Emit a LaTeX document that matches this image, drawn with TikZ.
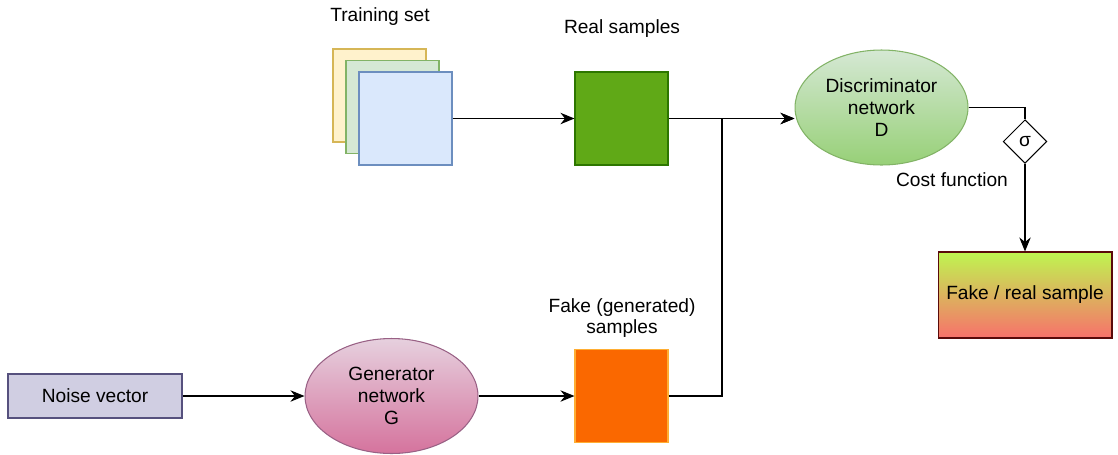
\documentclass[tikz,border=0pt]{standalone}
\usepackage{fontspec}
\setmainfont{Liberation Sans}
\usepackage{xcolor}
\usetikzlibrary{shapes,arrows,arrows.meta,positioning}

\definecolor{setyellow}{HTML}{FFF2CC}
\definecolor{setyellowline}{HTML}{D6B656}
\definecolor{setgreen}{HTML}{D5E8D4}
\definecolor{setgreenline}{HTML}{82B366}
\definecolor{setblue}{HTML}{DAE8FC}
\definecolor{setblueline}{HTML}{6C8EBF}
\definecolor{realfill}{HTML}{60A917}
\definecolor{realline}{HTML}{2D7600}
\definecolor{fakefill}{HTML}{FA6800}
\definecolor{fakeline}{HTML}{FFAE33}
\definecolor{noisefill}{HTML}{D0CEE2}
\definecolor{noiseline}{HTML}{56517E}
\definecolor{gentop}{HTML}{E6D0DE}
\definecolor{genbottom}{HTML}{D5739D}
\definecolor{genline}{HTML}{996185}
\definecolor{distop}{HTML}{D5E8D4}
\definecolor{disbottom}{HTML}{97D077}
\definecolor{outtop}{HTML}{BFF550}
\definecolor{outbottom}{HTML}{F8716B}
\definecolor{outline}{HTML}{5A0A0A}

\begin{document}
\begin{tikzpicture}[
    x=0.02cm, y=-0.02cm,
    font=\fontsize{10.9}{12.4}\selectfont,
    card/.style={rectangle, draw, line width=0.6pt, minimum width=1.86cm, minimum height=1.86cm, inner sep=0pt},
    net/.style={ellipse, draw, line width=0.6pt, minimum width=3.46cm, minimum height=2.3cm, inner sep=0pt, align=center},
    txt/.style={align=center, inner sep=0pt},
    wire/.style={line width=0.7pt},
    arrow/.style={-{Stealth[length=8pt,width=6.5pt]}, line width=0.7pt}
]
    \useasboundingbox (0,0) rectangle (1118,454);

    % training set stack
    \node[txt] (trainlbl) at (380,17) {Training set};
    \node[card, fill=setyellow, draw=setyellowline] (train1) at (379.5,95.5) {};
    \node[card, fill=setgreen, draw=setgreenline] (train2) at (392.5,107) {};
    \node[card, fill=setblue, draw=setblueline] (train) at (405.5,118.5) {};

    % samples
    \node[txt] (reallbl) at (622,29) {Real samples};
    \node[card, fill=realfill, draw=realline] (real) at (621.5,118.5) {};
    \node[txt] (fakelbl) at (622,318) {Fake (generated)\\samples};
    \node[card, fill=fakefill, draw=fakeline] (fake) at (621.5,396) {};

    % networks
    \node[rectangle, draw=noiseline, fill=noisefill, line width=0.6pt, minimum width=3.48cm, minimum height=0.88cm] (noise) at (95,396) {Noise vector};
    \node[net, draw=genline, top color=gentop, bottom color=genbottom] (gen) at (391.5,396) {Generator\\network\\G};
    \node[net, draw=setgreenline, top color=distop, bottom color=disbottom] (dis) at (881.5,107.5) {Discriminator\\network\\D};

    % cost and output
    \node[diamond, draw, line width=0.6pt, fill=white, aspect=1, minimum size=0.87cm, inner sep=0pt] (sig) at (1025,141.5) {σ};
    \node[txt] (costlbl) at (952,180) {Cost function};
    \node[rectangle, draw=outline, line width=0.6pt, top color=outtop, bottom color=outbottom, minimum width=3.48cm, minimum height=1.72cm] (out) at (1025,295) {Fake / real sample};

    \coordinate (join) at (722,118.5);

    \draw[arrow] (train.east) -- (real.west);
    \draw[arrow] (real.east) -- (real.east -| dis.west);
    \draw[arrow] (fake.east) -| (join) -- (real.east -| dis.west);
    \draw[arrow] (noise.east) -- (gen.west);
    \draw[arrow] (gen.east) -- (fake.west);
    \draw[wire] (dis.east) -| (sig.north);
    \draw[arrow] (sig.south) -- (out.north);
\end{tikzpicture}
\end{document}
